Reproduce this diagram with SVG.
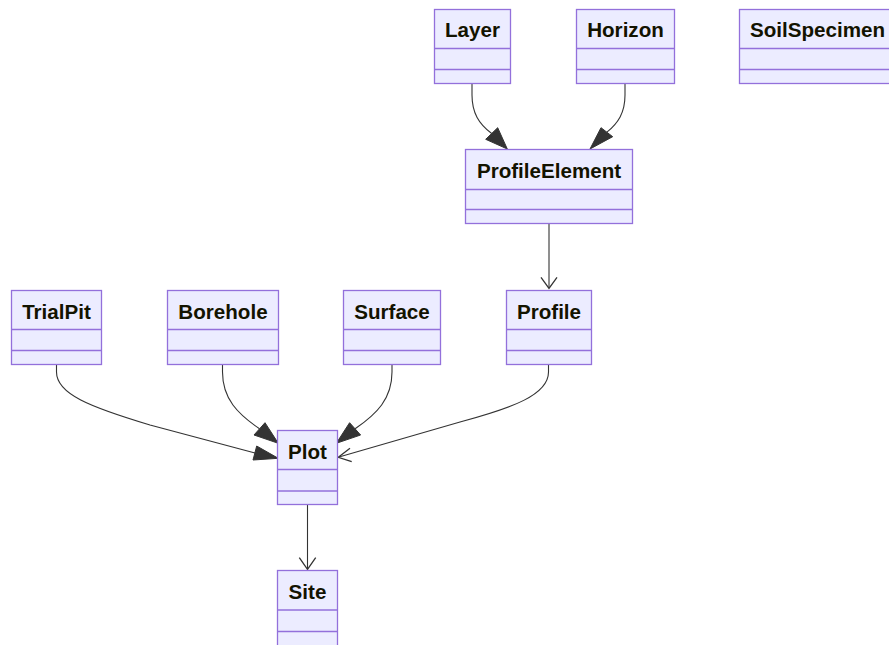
<svg xmlns="http://www.w3.org/2000/svg" width="889" height="645" viewBox="0 0 889 645">
  <style>
    .box { fill: #ECECFF; stroke: #9370DB; stroke-width: 1.3; }
    .div { stroke: #9370DB; stroke-width: 1.3; }
    .title { font-family: "Liberation Sans", Arial, sans-serif; font-size: 20.6px; font-weight: bold; fill: #131300; text-anchor: middle; }
    .edge { fill: none; stroke: #333333; stroke-width: 1.1; }
    .head { fill: #333333; stroke: #333333; stroke-width: 1; }
    .open { fill: none; stroke: #333333; stroke-width: 1.3; }
  </style>
  <rect width="889" height="645" fill="#ffffff"/>

  <!-- connectors -->
  <g id="connectors">
    <!-- Layer to ProfileElement -->
    <path class="edge" d="M472,83 V95 C472,113 479,124 491.7,133.5"/>
    <polygon class="head" points="507.3,149 485.7,139.3 497.7,127.7"/>
    <!-- Horizon to ProfileElement -->
    <path class="edge" d="M625,83 V95 C625,113 618,123 606.9,132.2"/>
    <polygon class="head" points="590,149 601,127.7 612.7,136.7"/>
    <!-- ProfileElement to Profile -->
    <path class="edge" d="M549,223 V288"/>
    <polyline class="open" points="541,277.3 549,288.3 557,277.3"/>
    <!-- TrialPit to Plot -->
    <path class="edge" d="M56.5,364 V372 C56.5,394 90,407 150,425 L255,453"/>
    <polygon class="head" points="278.3,458.3 256.7,446 253,460"/>
    <!-- Borehole to Plot -->
    <path class="edge" d="M222.5,364 V372 C222.5,399 238,414 259.5,428.8"/>
    <polygon class="head" points="278.3,443.3 265,422.7 254,435"/>
    <!-- Surface to Plot -->
    <path class="edge" d="M392,364 V372 C392,399 376.6,414 355.1,428.8"/>
    <polygon class="head" points="336.3,443.3 349.6,422.7 360.6,435"/>
    <!-- Profile to Plot -->
    <path class="edge" d="M548.5,364 V372 C548.5,395 512,408 460,422 L339,457"/>
    <polyline class="open" points="350,448.3 338.3,457.3 351.7,461.7"/>
    <!-- Plot to Site -->
    <path class="edge" d="M307.5,505 V569"/>
    <polyline class="open" points="299.3,557.7 307.5,569.3 315.7,557.7"/>
  </g>

  <!-- classes -->
  <g id="Layer">
    <rect class="box" x="434.5" y="9.5" width="76" height="74"/>
    <line class="div" x1="434.5" y1="48.5" x2="510.5" y2="48.5"/>
    <line class="div" x1="434.5" y1="69.5" x2="510.5" y2="69.5"/>
    <text class="title" x="472.5" y="37">Layer</text>
  </g>
  <g id="Horizon">
    <rect class="box" x="576.5" y="9.5" width="98" height="74"/>
    <line class="div" x1="576.5" y1="48.5" x2="674.5" y2="48.5"/>
    <line class="div" x1="576.5" y1="69.5" x2="674.5" y2="69.5"/>
    <text class="title" x="625.5" y="37">Horizon</text>
  </g>
  <g id="SoilSpecimen">
    <rect class="box" x="739.5" y="9.5" width="156" height="74"/>
    <line class="div" x1="739.5" y1="48.5" x2="895.5" y2="48.5"/>
    <line class="div" x1="739.5" y1="69.5" x2="895.5" y2="69.5"/>
    <text class="title" x="817.5" y="37">SoilSpecimen</text>
  </g>
  <g id="ProfileElement">
    <rect class="box" x="465.5" y="149.5" width="167" height="74"/>
    <line class="div" x1="465.5" y1="189.5" x2="632.5" y2="189.5"/>
    <line class="div" x1="465.5" y1="209.5" x2="632.5" y2="209.5"/>
    <text class="title" x="549" y="178">ProfileElement</text>
  </g>
  <g id="TrialPit">
    <rect class="box" x="11.5" y="290.5" width="90" height="74"/>
    <line class="div" x1="11.5" y1="329.5" x2="101.5" y2="329.5"/>
    <line class="div" x1="11.5" y1="350.5" x2="101.5" y2="350.5"/>
    <text class="title" x="56.5" y="318.5">TrialPit</text>
  </g>
  <g id="Borehole">
    <rect class="box" x="167.5" y="290.5" width="111" height="74"/>
    <line class="div" x1="167.5" y1="329.5" x2="278.5" y2="329.5"/>
    <line class="div" x1="167.5" y1="350.5" x2="278.5" y2="350.5"/>
    <text class="title" x="223" y="318.5">Borehole</text>
  </g>
  <g id="Surface">
    <rect class="box" x="343.5" y="290.5" width="97" height="74"/>
    <line class="div" x1="343.5" y1="329.5" x2="440.5" y2="329.5"/>
    <line class="div" x1="343.5" y1="350.5" x2="440.5" y2="350.5"/>
    <text class="title" x="392" y="318.5">Surface</text>
  </g>
  <g id="Profile">
    <rect class="box" x="506.5" y="290.5" width="85" height="74"/>
    <line class="div" x1="506.5" y1="329.5" x2="591.5" y2="329.5"/>
    <line class="div" x1="506.5" y1="350.5" x2="591.5" y2="350.5"/>
    <text class="title" x="549" y="318.5">Profile</text>
  </g>
  <g id="Plot">
    <rect class="box" x="277.5" y="430.5" width="60" height="74"/>
    <line class="div" x1="277.5" y1="469.5" x2="337.5" y2="469.5"/>
    <line class="div" x1="277.5" y1="491" x2="337.5" y2="491"/>
    <text class="title" x="307.5" y="458.5">Plot</text>
  </g>
  <g id="Site">
    <rect class="box" x="277.5" y="570.5" width="60" height="76"/>
    <line class="div" x1="277.5" y1="610" x2="337.5" y2="610"/>
    <line class="div" x1="277.5" y1="631.5" x2="337.5" y2="631.5"/>
    <text class="title" x="307.5" y="598.5">Site</text>
  </g>
</svg>
